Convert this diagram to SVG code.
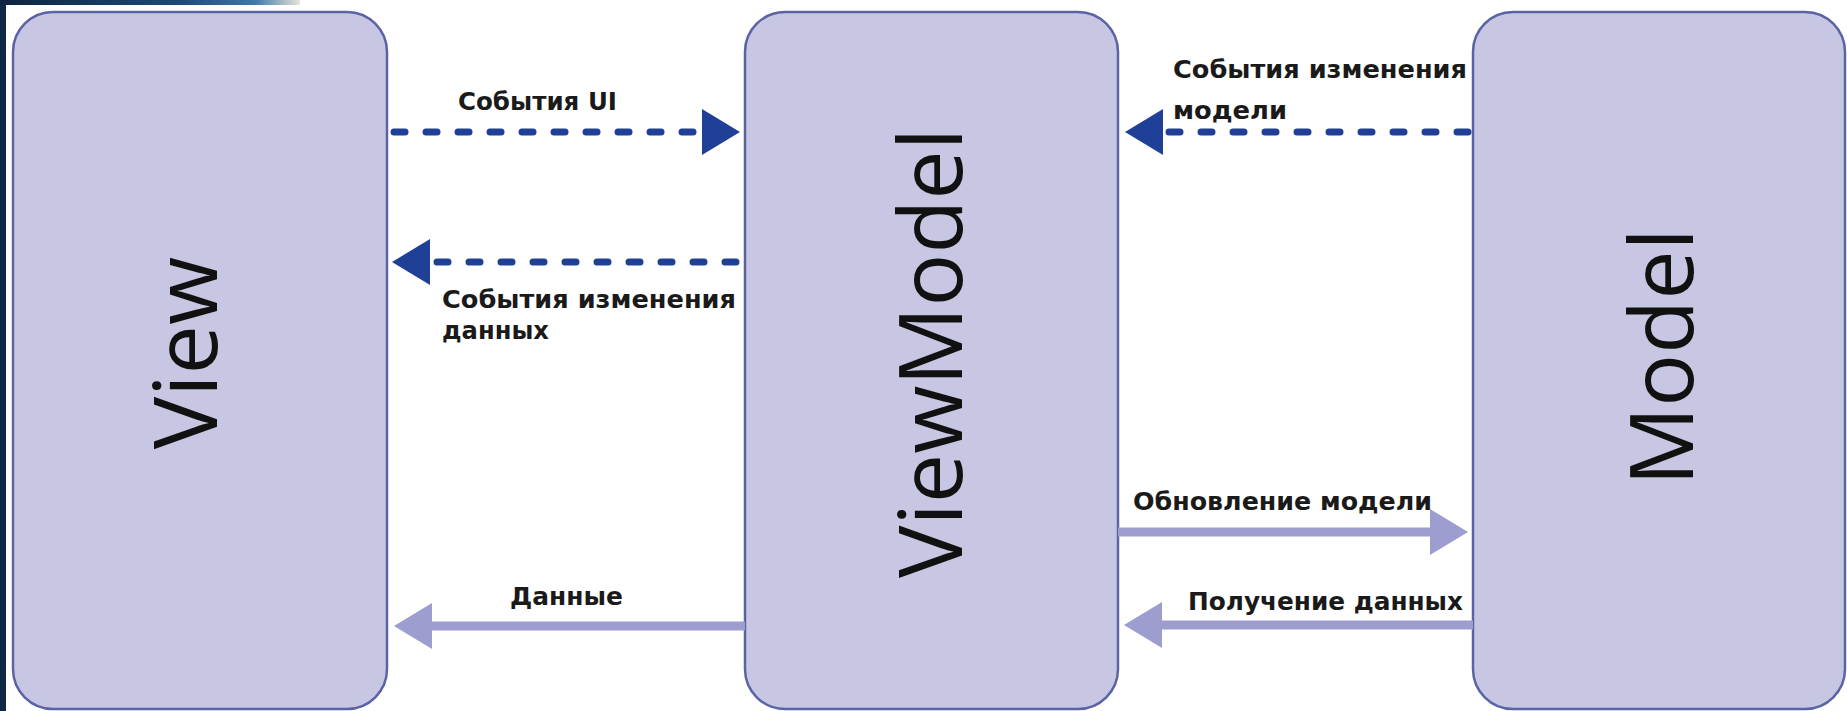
<svg xmlns="http://www.w3.org/2000/svg" width="1847" height="711" viewBox="0 0 1847 711">
  <defs>
    <linearGradient id="topband" x1="0" y1="0" x2="1" y2="0">
      <stop offset="0" stop-color="#0d2440"/>
      <stop offset="0.6" stop-color="#1d4a78"/>
      <stop offset="0.85" stop-color="#3f78a8"/>
      <stop offset="1" stop-color="#e8e4d8"/>
    </linearGradient>
    <marker id="headDark" markerUnits="userSpaceOnUse" markerWidth="40" markerHeight="46" refX="0" refY="23" orient="auto" viewBox="0 0 40 46">
      <polygon points="0,0 38,23 0,46" fill="#203f97"/>
    </marker>
    <marker id="headLight" markerUnits="userSpaceOnUse" markerWidth="40" markerHeight="46" refX="0" refY="23" orient="auto" viewBox="0 0 40 46">
      <polygon points="0,0 38,23 0,46" fill="#9d9dd0"/>
    </marker>
  </defs>
  <style>
    .box { fill: #c7c7e3; stroke: #5b63a3; stroke-width: 2.5; }
    .title { font-family: "Open Sans", "Noto Sans", sans-serif; font-size: 88px; fill: #111111; }
    .lbl { font-family: "DejaVu Sans", "Noto Sans", sans-serif; font-weight: bold; font-size: 24px; fill: #1a1a1a; }
    .dash { fill: none; stroke: #203f97; stroke-width: 7; stroke-linecap: round; stroke-dasharray: 11 21; marker-end: url(#headDark); }
    .solid { fill: none; stroke: #9d9dd0; stroke-width: 9; marker-end: url(#headLight); }
  </style>
  <rect x="0" y="0" width="1847" height="711" fill="#ffffff"/>
  <rect x="0" y="0" width="6" height="711" fill="#0f2844"/>
  <rect x="0" y="0" width="300" height="5" fill="url(#topband)"/>

  <g id="node-view">
    <rect class="box" x="13" y="12" width="374" height="697" rx="40" ry="40"/>
    <text class="title" transform="translate(186,353) rotate(-90)" text-anchor="middle" y="31">View</text>
  </g>
  <g id="node-viewmodel">
    <rect class="box" x="745" y="12" width="373" height="697" rx="40" ry="40"/>
    <text class="title" transform="translate(931,353) rotate(-90)" text-anchor="middle" y="31">ViewModel</text>
  </g>
  <g id="node-model">
    <rect class="box" x="1473" y="12" width="372" height="697" rx="40" ry="40"/>
    <text class="title" transform="translate(1662,357) rotate(-90)" text-anchor="middle" y="31">Model</text>
  </g>

  <g id="connectors">
    <path class="dash" d="M394,132 H702"/>
    <path class="dash" d="M736,262 H430"/>
    <path class="dash" d="M1468,132 H1163"/>
    <path class="solid" d="M1118,532 H1430"/>
    <path class="solid" d="M1473,625 H1162"/>
    <path class="solid" d="M745,626 H432"/>
  </g>

  <g id="labels">
    <text class="lbl" x="458" y="110" textLength="159" lengthAdjust="spacingAndGlyphs">События UI</text>
    <text class="lbl" x="442" y="308" textLength="294" lengthAdjust="spacingAndGlyphs">События изменения</text>
    <text class="lbl" x="442" y="339" textLength="107" lengthAdjust="spacingAndGlyphs">данных</text>
    <text class="lbl" x="1173" y="78" textLength="294" lengthAdjust="spacingAndGlyphs">События изменения</text>
    <text class="lbl" x="1173" y="119" textLength="114" lengthAdjust="spacingAndGlyphs">модели</text>
    <text class="lbl" x="1133" y="510" textLength="299" lengthAdjust="spacingAndGlyphs">Обновление модели</text>
    <text class="lbl" x="1188" y="610" textLength="275" lengthAdjust="spacingAndGlyphs">Получение данных</text>
    <text class="lbl" x="510" y="605" textLength="113" lengthAdjust="spacingAndGlyphs">Данные</text>
  </g>
</svg>
